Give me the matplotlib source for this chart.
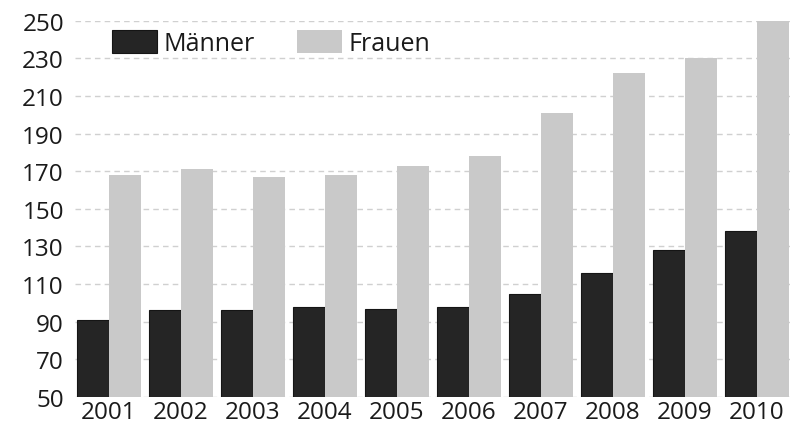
import matplotlib
matplotlib.use("Agg")
import matplotlib.pyplot as plt
import numpy as np

plt.rcParams['font.family'] = ['Open Sans', 'DejaVu Sans']

years = ['2001', '2002', '2003', '2004', '2005', '2006', '2007', '2008', '2009', '2010']
maenner = [91, 96, 96, 98, 97, 98, 105, 116, 128, 138]
frauen = [168, 171, 167, 168, 173, 178, 201, 222, 230, 250]
yticks = list(range(50, 251, 20))

col_m = '#252525'
col_f = '#c9c9c9'

fig = plt.figure(figsize=(7.98, 4.27), dpi=100)
ax = fig.add_axes([0.094, 0.068, 0.896, 0.881])

x = np.arange(len(years))
w = 0.44
ax.bar(x - w / 2, maenner, width=w, color=col_m, edgecolor='#151515',
       linewidth=0.8, label='Männer', zorder=3)
ax.bar(x + w / 2, frauen, width=w, color=col_f, edgecolor=col_f,
       linewidth=0, label='Frauen', zorder=3)

ax.set_ylim(50, 250)
ax.set_xlim(-0.47, 9.46)
ax.set_yticks(yticks)
ax.set_yticklabels([str(t) for t in yticks])
ax.set_xticks(x)
ax.set_xticklabels(years)

ax.yaxis.grid(True, linestyle=(0, (4, 3)), color='#d0d0d0', linewidth=1.0, zorder=0)
ax.set_axisbelow(True)
for s in ax.spines.values():
    s.set_visible(False)
ax.tick_params(axis='both', length=0, labelsize=17.5, colors='#1a1a1a')
ax.tick_params(axis='y', pad=8)
ax.tick_params(axis='x', pad=2)

leg = ax.legend(loc='upper left', bbox_to_anchor=(0.052, 0.975), ncol=2,
                frameon=False, fontsize=18, handlelength=1.8, handleheight=1.0,
                handletextpad=0.25, columnspacing=1.7, borderpad=0,
                borderaxespad=0)
for t in leg.get_texts():
    t.set_color('#1a1a1a')

fig.savefig('out.png', dpi=100)
